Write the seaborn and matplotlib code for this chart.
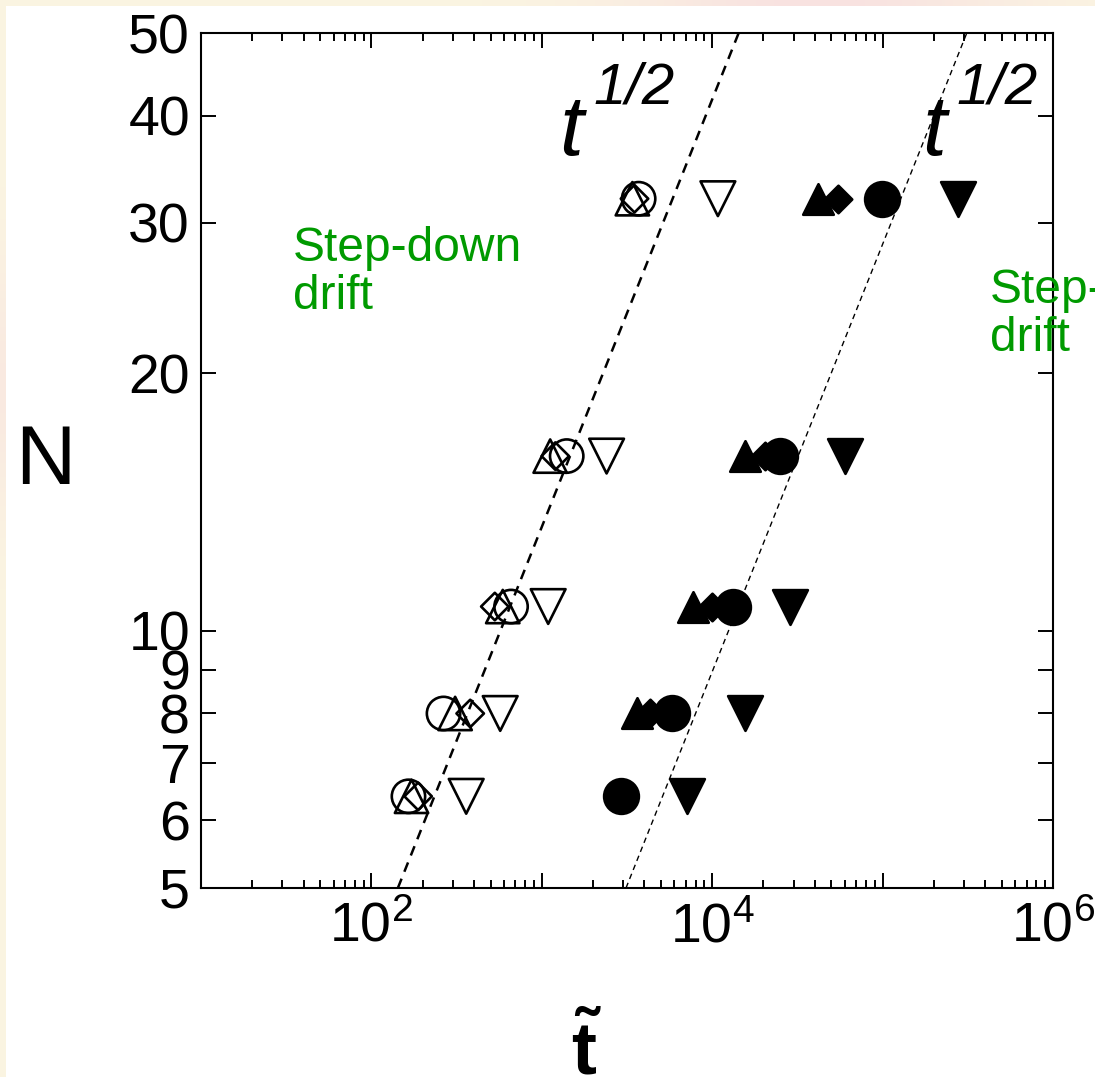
import numpy as np
import matplotlib
matplotlib.use("Agg")
import matplotlib.pyplot as plt
from matplotlib import font_manager
from matplotlib.ticker import LogLocator, NullLocator, FixedLocator, FixedFormatter, NullFormatter
from matplotlib.patches import Rectangle
import seaborn as sns

# ---- data -------------------------------------------------------------
N_values = [32, 16, 10.67, 8, 6.4]

# step-down drift (open symbols)
open_circle_t = [3700, 1400, 660, 265, 165]
open_triangle_t = [3400, 1120, 590, 310, 172]
open_diamond_t = [3500, 1200, 530, 380, 188]
open_tridown_t = [10800, 2400, 1090, 570, 360]

# step-up drift (filled symbols)
filled_triangle_t = [42000, 15600, 7700, 3600, np.nan]
filled_diamond_t = [55000, 20400, 10000, 4300, np.nan]
filled_circle_t = [99000, 25000, 13200, 5800, 2900]
filled_tridown_t = [277000, 60000, 28600, 15600, 7100]

# t^(1/2) guides: time at which each guide passes N = 5
guide_t0_left = 143
guide_t0_right = 3120
guide_N = [5, 50]

y_ticks = [5, 6, 7, 8, 9, 10, 20, 30, 40, 50]
x_ticks = [1e1, 1e2, 1e3, 1e4, 1e5, 1e6]
x_tick_labels = ["", r"$\mathregular{10^{2}}$", "", r"$\mathregular{10^{4}}$", "", r"$\mathregular{10^{6}}$"]

# ---- style ------------------------------------------------------------
sns.set_style("ticks")
available = {f.name for f in font_manager.fontManager.ttflist}
narrow = "Liberation Sans Narrow" if "Liberation Sans Narrow" in available else "Liberation Sans"
plt.rcParams["font.family"] = [narrow, "DejaVu Sans"]
plt.rcParams["mathtext.fontset"] = "custom"
plt.rcParams["mathtext.rm"] = narrow
plt.rcParams["mathtext.it"] = narrow + ":italic"
plt.rcParams["mathtext.bf"] = "Liberation Sans:bold"
plt.rcParams["text.color"] = "black"
plt.rcParams["axes.labelcolor"] = "black"
plt.rcParams["xtick.color"] = "black"
plt.rcParams["ytick.color"] = "black"

W, H = 1095, 1077
fig = plt.figure(figsize=(W / 100, H / 100), dpi=100)
fig.patch.set_facecolor("white")

# slide-style background frame
bg = fig.add_axes([0, 0, 1, 1], zorder=-10)
gx = np.linspace(0, 1, 300)
gy = np.linspace(0, 1, 300)
GX, GY = np.meshgrid(gx, gy)
w_pink = np.maximum(np.exp(-((GX - 0.75) / 0.18) ** 2), np.exp(-((GY - 0.36) / 0.12) ** 2) * 0.6)
cream = np.array([251, 245, 226]) / 255
pink = np.array([248, 226, 224]) / 255
img = cream[None, None, :] * (1 - w_pink[..., None]) + pink[None, None, :] * w_pink[..., None]
bg.imshow(img, extent=[0, 1, 0, 1], origin="upper", aspect="auto")
bg.add_patch(Rectangle((6 / W, 0), 1, 1 - 6 / H, facecolor="white", edgecolor="none"))
bg.set_xlim(0, 1)
bg.set_ylim(0, 1)
bg.axis("off")

ax = fig.add_axes([201 / W, (H - 888) / H, 852 / W, 855 / H])
ax.set_facecolor("white")

# ---- guides -----------------------------------------------------------
gN = np.array(guide_N, dtype=float)
sns.lineplot(x=guide_t0_left * (gN / 5) ** 2, y=gN, ax=ax, color="black",
             lw=1.8, linestyle=(0, (4, 3)), sort=False, zorder=1)
sns.lineplot(x=guide_t0_right * (gN / 5) ** 2, y=gN, ax=ax, color="black",
             lw=1.0, linestyle=(0, (4, 3)), sort=False, zorder=1)

# ---- symbols ----------------------------------------------------------
series = [
    (open_diamond_t, "D", 14, "none"),
    (open_triangle_t, "^", 24, "none"),
    (open_circle_t, "o", 24, "none"),
    (open_tridown_t, "v", 25, "none"),
    (filled_triangle_t, "^", 22, "black"),
    (filled_diamond_t, "D", 14, "black"),
    (filled_circle_t, "o", 25, "black"),
    (filled_tridown_t, "v", 25, "black"),
]
for tvals, mk, ms, fc in series:
    sns.scatterplot(x=tvals, y=N_values, ax=ax, marker=mk, s=ms ** 2,
                    facecolor=fc, edgecolor="black", linewidth=1.9, zorder=3)

ax.set_xscale("log")
ax.set_yscale("log")
ax.set_xlim(10, 1e6)
ax.set_ylim(5, 50)

ax.xaxis.set_major_locator(FixedLocator(x_ticks))
ax.xaxis.set_major_formatter(FixedFormatter(x_tick_labels))
ax.xaxis.set_minor_locator(LogLocator(base=10, subs=np.arange(2, 10)))
ax.xaxis.set_minor_formatter(NullFormatter())
ax.yaxis.set_major_locator(FixedLocator(y_ticks))
ax.yaxis.set_major_formatter(FixedFormatter([str(v) for v in y_ticks]))
ax.yaxis.set_minor_locator(NullLocator())

ax.tick_params(which="both", direction="in", top=True, right=True, width=1.4, colors="black")
ax.tick_params(which="major", length=11)
ax.tick_params(which="minor", length=5.5)
ax.tick_params(axis="y", labelsize=40, pad=8)
ax.tick_params(axis="x", labelsize=40, pad=10)
for sp in ax.spines.values():
    sp.set_linewidth(1.5)
    sp.set_color("black")
    sp.set_visible(True)

ax.set_ylabel("N", family="Liberation Sans", fontsize=60, rotation=0, va="center", ha="center")
ax.yaxis.set_label_coords(-0.183, 0.498)
ax.set_xlabel(r"$\mathbf{\tilde{t}}$", fontsize=54, va="bottom")
ax.xaxis.set_label_coords(0.452, -0.236)

# ---- annotations ------------------------------------------------------
for tx, sx in [(0.420, 0.461), (0.846, 0.887)]:
    ax.text(tx, 0.857, "t", transform=ax.transAxes, fontsize=62, style="italic",
            family=narrow, ha="left", va="baseline")
    ax.text(sx, 0.918, "1/2", transform=ax.transAxes, fontsize=42, style="italic",
            family=narrow, ha="left", va="baseline")

green = "#009a00"
ax.text(0.108, 0.774, "Step-down\ndrift", transform=ax.transAxes, color=green,
        fontsize=34.5, family="Liberation Sans", ha="left", va="top", linespacing=1.08)
fig.text(990 / W, 1 - 268 / H, "Step-up\ndrift", color=green,
         fontsize=34.5, family="Liberation Sans", ha="left", va="top", linespacing=1.08)

fig.savefig("out.png", dpi=100)
